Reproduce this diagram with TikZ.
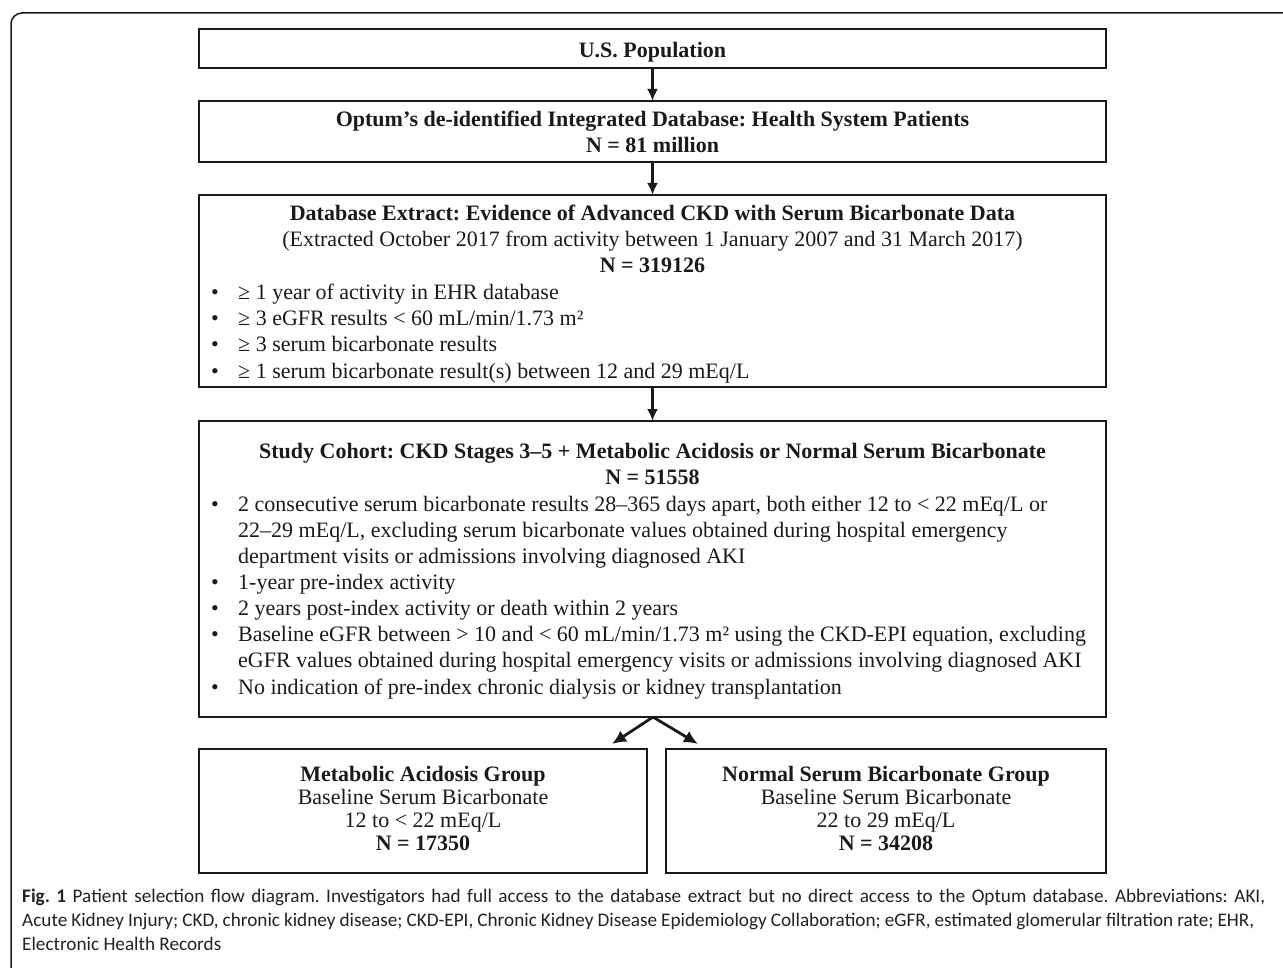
\documentclass[tikz,border=0pt]{standalone}
\usepackage{fontspec}
\setmainfont{Liberation Serif}
\newfontfamily\capfont{Carlito}
\usetikzlibrary{arrows.meta}
\definecolor{ink}{HTML}{1A1A1A}
\definecolor{capink}{HTML}{222222}
\frenchspacing
\begin{document}
\begin{tikzpicture}[x=1pt,y=-1pt,
  box/.style={draw=ink, line width=1.7pt, inner sep=0pt, outer sep=0pt, rectangle},
  ln/.style={anchor=base, inner sep=0pt, text=ink, font=\fontsize{22}{26}\selectfont},
  bl/.style={anchor=base west, inner sep=0pt, text=ink, font=\fontsize{22}{26}\selectfont},
  captext/.style={anchor=base west, inner sep=0pt, text=capink, font=\capfont\fontsize{19.2}{23}\selectfont},
  arr/.style={draw=ink, line width=2.6pt, -{Latex[length=12pt,width=11pt]}},
  sarr/.style={draw=ink, line width=2.8pt, -{Latex[length=14pt,width=13pt]}}]
\useasboundingbox (0,0) rectangle (1283,968);
\draw[draw=ink, line width=1.5pt, rounded corners=11pt] (11,13) rectangle (1310,1000);
% boxes
\node[box, minimum width=907pt, minimum height=39pt] (pop) at (652.5,48.5) {};
\node[box, minimum width=907pt, minimum height=61pt] (opt) at (652.5,131.5) {};
\node[box, minimum width=907pt, minimum height=192pt] (ext) at (652.5,291) {};
\node[box, minimum width=907pt, minimum height=296pt] (coh) at (652.5,569) {};
\node[box, minimum width=448pt, minimum height=124pt] (mag) at (423,811) {};
\node[box, minimum width=440pt, minimum height=124pt] (nsb) at (886,811) {};
% arrows
\draw[arr] (pop.south) -- (opt.north);
\draw[arr] (opt.south) -- (ext.north);
\draw[arr] (ext.south) -- (coh.north);
\coordinate (sl) at (612,744);
\coordinate (sr) at (698,744);
\coordinate (ap) at (653,717);
\draw[sarr] (ap) -- (sl);
\draw[sarr] (ap) -- (sr);
% texts
\node[ln] (tpop) at (652.5,58) {\textbf{U.S. Population}};
\node[ln] (o1) at (652.5,127) {\textbf{Optum’s de-identified Integrated Database: Health System Patients}};
\node[ln] (o2) at (652.5,153) {\textbf{N = 81 million}};
\node[ln] (e1) at (652.5,221) {\textbf{Database Extract: Evidence of Advanced CKD with Serum Bicarbonate Data}};
\node[ln] (e2) at (652.5,247) {(Extracted October 2017 from activity between 1 January 2007 and 31 March 2017)};
\node[ln] (e3) at (652.5,273) {\textbf{N = 319126}};
\node[bl] (e4) at (211,300) {\makebox[27pt][l]{•}≥ 1 year of activity in EHR database};
\node[bl] (e5) at (211,326) {\makebox[27pt][l]{•}≥ 3 eGFR results < 60 mL/min/1.73 m²};
\node[bl] (e6) at (211,352) {\makebox[27pt][l]{•}≥ 3 serum bicarbonate results};
\node[bl] (e7) at (211,378) {\makebox[27pt][l]{•}≥ 1 serum bicarbonate result(s) between 12 and 29 mEq/L};
\node[ln] (c1) at (652.5,458) {\textbf{Study Cohort: CKD Stages 3--5 + Metabolic Acidosis or Normal Serum Bicarbonate}};
\node[ln] (c2) at (652.5,484) {\textbf{N = 51558}};
\node[bl] (c3) at (211,511) {\makebox[27pt][l]{•}2 consecutive serum bicarbonate results 28--365 days apart, both either 12 to < 22 mEq/L or};
\node[bl] (c4) at (238,537) {22--29 mEq/L, excluding serum bicarbonate values obtained during hospital emergency};
\node[bl] (c5) at (238,563) {department visits or admissions involving diagnosed AKI};
\node[bl] (c6) at (211,589) {\makebox[27pt][l]{•}1-year pre-index activity};
\node[bl] (c7) at (211,615) {\makebox[27pt][l]{•}2 years post-index activity or death within 2 years};
\node[bl] (c8) at (211,641) {\makebox[27pt][l]{•}Baseline eGFR between > 10 and < 60 mL/min/1.73 m² using the CKD-EPI equation, excluding};
\node[bl] (c9) at (238,667) {eGFR values obtained during hospital emergency visits or admissions involving diagnosed AKI};
\node[bl] (c10) at (211,694) {\makebox[27pt][l]{•}No indication of pre-index chronic dialysis or kidney transplantation};
\node[ln] (m1) at (423,781) {\textbf{Metabolic Acidosis Group}};
\node[ln] (m2) at (423,804) {Baseline Serum Bicarbonate};
\node[ln] (m3) at (423,827) {12 to < 22 mEq/L};
\node[ln] (m4) at (423,850) {\textbf{N = 17350}};
\node[ln] (n1) at (886,781) {\textbf{Normal Serum Bicarbonate Group}};
\node[ln] (n2) at (886,804) {Baseline Serum Bicarbonate};
\node[ln] (n3) at (886,827) {22 to 29 mEq/L};
\node[ln] (n4) at (886,850) {\textbf{N = 34208}};
% caption
\node[captext] (cap1) at (22,902) {\makebox[1243pt][s]{\textbf{Fig. 1} Patient selection flow diagram. Investigators had full access to the database extract but no direct access to the Optum database. Abbreviations: AKI,}};
\node[captext] (cap2) at (22,926) {\makebox[1232pt][s]{Acute Kidney Injury; CKD, chronic kidney disease; CKD-EPI, Chronic Kidney Disease Epidemiology Collaboration; eGFR, estimated glomerular filtration rate; EHR,}};
\node[captext] (cap3) at (22,950) {Electronic Health Records};
\end{tikzpicture}
\end{document}
